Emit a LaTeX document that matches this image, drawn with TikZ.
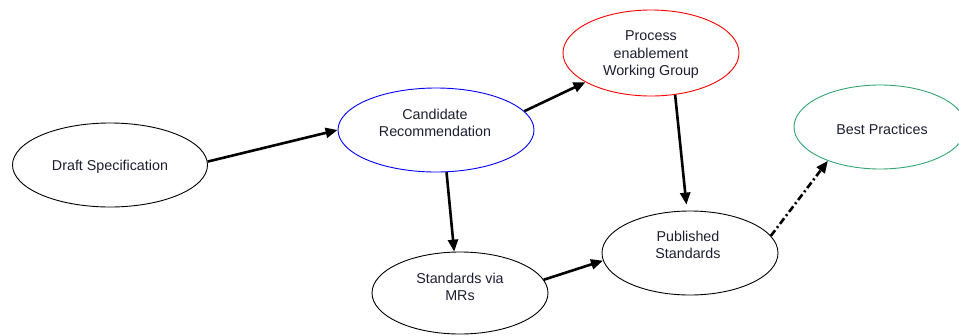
\documentclass[tikz,border=0pt]{standalone}
\usepackage{fontspec}
\setmainfont{Liberation Sans}
\usetikzlibrary{shapes.geometric,arrows.meta}
\definecolor{inkcol}{RGB}{30,30,50}
\definecolor{bestgreen}{RGB}{50,165,115}
\tikzset{
  ell/.style={ellipse, draw=black, line width=0.9pt, inner sep=0pt},
  lbl/.style={font=\fontsize{14.3}{17.5}\selectfont, text=inkcol, align=center, inner sep=0pt},
  flow/.style={line width=2.6pt, -{Triangle[length=12pt,width=10pt]}},
  dashflow/.style={flow, dash pattern=on 7pt off 3pt on 2pt off 3pt}
}
\begin{document}
\begin{tikzpicture}[x=1pt,y=-1pt]
\useasboundingbox[fill=white] (0,0) rectangle (959,335);

% process states
\node[ell, minimum width=195pt, minimum height=84pt] (draft) at (110,165) {};
\node[ell, draw=blue, minimum width=196pt, minimum height=84pt] (cand) at (436,130) {};
\node[ell, draw=red, minimum width=176pt, minimum height=86pt] (proc) at (651,53) {};
\node[ell, draw=bestgreen, minimum width=172pt, minimum height=84pt] (best) at (880,127) {};
\node[ell, minimum width=176pt, minimum height=84pt] (pub) at (690,253) {};
\node[ell, minimum width=176pt, minimum height=82pt] (smv) at (460,293) {};

% their captions
\node[lbl] (draftT) at (110,167) {Draft Specification};
\node[lbl] (candT) at (435,123) {Candidate\\Recommendation};
\node[lbl] (procT) at (651,55) {Process\\enablement\\Working Group};
\node[lbl] (bestT) at (882,129) {Best Practices};
\node[lbl] (pubT) at (688,245) {Published\\Standards};
\node[lbl] (smvT) at (460,287) {Standards via\\MRs};

% transitions
\draw[flow] (draft.2) -- (cand.180);
\draw[flow] (cand.12) -- (proc.204);
\draw[flow, shorten >=6pt] (proc.-60) -- (pub.94);
\draw[flow] (cand.-76) -- (smv.98);
\draw[flow] (smv.9) -- (pub.185);
\draw[dashflow] (pub.12) -- (best.213);
\end{tikzpicture}
\end{document}
